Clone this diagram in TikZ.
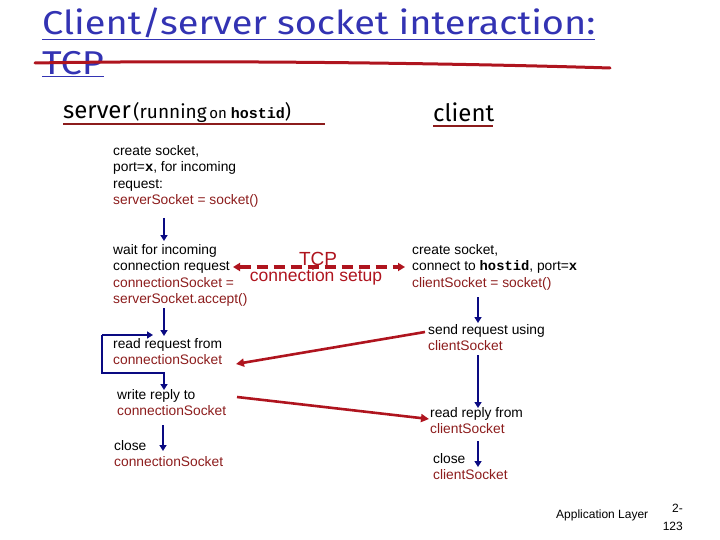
\documentclass[tikz,border=0pt]{standalone}
\usepackage{fontspec}
\setmainfont{Liberation Sans}
\newfontfamily\ttl{Fira Sans}
\newfontfamily\mono{Liberation Mono}
\usetikzlibrary{arrows.meta}
\definecolor{tblue}{RGB}{51,51,179}
\definecolor{dred}{RGB}{140,28,28}
\definecolor{ared}{RGB}{175,20,30}
\definecolor{nblue}{RGB}{10,10,130}
\begin{document}
\begin{tikzpicture}[x=1pt,y=-1pt,
  txt/.style={font=\fontsize{13.8}{16.5}\selectfont,align=left,inner sep=0pt,anchor=north west},
  ba/.style={draw=nblue,line width=2.2pt,-{Triangle[length=6pt,width=7pt]}},
  ra/.style={draw=ared,line width=2.6pt,-{Triangle[length=8pt,width=8pt]}}]
\useasboundingbox (0,0) rectangle (720,540);
\node[inner sep=0,anchor=west,text=tblue,font=\ttl\fontsize{33}{33}\selectfont,xscale=1.15] (t1) at (42,24) {\underline{Client/server socket interaction:}};
\node[inner sep=0,anchor=west,text=tblue,font=\ttl\fontsize{33}{33}\selectfont,xscale=1.15] (t2) at (42,64) {\underline{TCP}};
\coordinate (s1) at (35,63); \coordinate (s2) at (610,68);
\draw[ared,line width=3pt,line cap=round] (s1) .. controls (200,60) and (450,63) .. (s2);
\node[inner sep=0,anchor=west,font=\ttl] (srv) at (63,112) {{\fontsize{24}{24}\selectfont server}\ {\fontsize{19}{19}\selectfont(running}\ {\fontsize{15}{15}\selectfont on {\mono\bfseries hostid}}{\fontsize{19}{19}\selectfont)}};
\draw[dred,line width=1.5pt] (63,124) -- (325,124);
\node[inner sep=0,anchor=west,font=\ttl\fontsize{24}{24}\selectfont] (cli) at (433,112) {client};
\draw[dred,line width=1.5pt] (433,126) -- (493,126);

\node[txt] (b1) at (113,145) {create socket,\\port=\textbf{\mono x}, for incoming\\request:\\\textcolor{dred}{serverSocket = socket()}};
\node[txt] (b2) at (113,244) {wait for incoming\\connection request\\\textcolor{dred}{connectionSocket =}\\\textcolor{dred}{serverSocket.accept()}};
\node[txt] (c1) at (412,244) {create socket,\\connect to {\mono\bfseries hostid}, port=\textbf{\mono x}\\\textcolor{dred}{clientSocket = socket()}};
\node[txt] (c2) at (428,324) {send request using\\\textcolor{dred}{clientSocket}};
\node[txt] (b3) at (113,338) {read request from\\\textcolor{dred}{connectionSocket}};
\node[txt] (b4) at (117,389) {write reply to\\\textcolor{dred}{connectionSocket}};
\node[txt] (c3) at (430,407) {read reply from\\\textcolor{dred}{clientSocket}};
\node[txt] (b5) at (114,440) {close\\\textcolor{dred}{connectionSocket}};
\node[txt] (c4) at (433,453) {close\\\textcolor{dred}{clientSocket}};

\node[inner sep=0,text=ared,font=\fontsize{19}{19}\selectfont] (tcp) at (318,259) {TCP};
\node[inner sep=0,text=ared,font=\fontsize{17.5}{17.5}\selectfont] (cs) at (316,277) {connection setup};
\coordinate (d1) at (233,267); \coordinate (d2) at (405,267);
\draw[ared,line width=3.2pt,dash pattern=on 11pt off 6pt,{Triangle[length=7pt,width=8pt]}-{Triangle[length=7pt,width=8pt]}] (d1) -- (d2);

\draw[ba] (164,218) -- (164,241);
\draw[ba] (164,308) -- (164,336);
\draw[ba] (164,372) -- (164,390);
\draw[ba] (163,425) -- (163,451);
\draw[ba,-] (164,373) -- (102,373) -- (102,335);
\draw[ba] (102,335) -- (153,335);
\draw[ba] (478,297) -- (478,323);
\draw[ba] (478,355) -- (478,408);
\draw[ba] (478,441) -- (478,467);

\draw[ra] (425,332) -- (236,364);
\draw[ra] (237,397) -- (429,419);

\node[inner sep=0,anchor=west,font=\fontsize{12}{12}\selectfont] (al) at (556,515) {Application Layer};
\node[inner sep=0,anchor=north east,align=right,font=\fontsize{12}{18}\selectfont] (pg) at (683,504) {2-\\123};
\end{tikzpicture}
\end{document}
